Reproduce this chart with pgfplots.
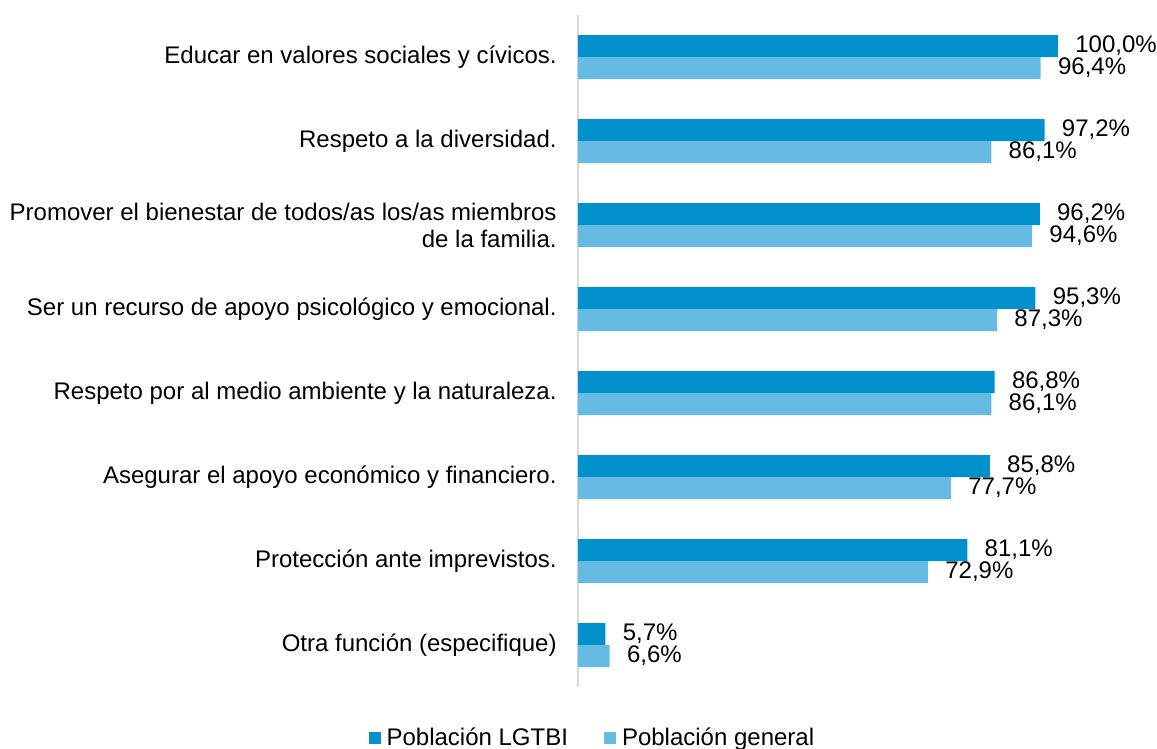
\documentclass[border=0pt]{standalone}
\usepackage{pgfplots}
\pgfplotsset{compat=1.18}
\usepackage{fontspec}
\setmainfont{Liberation Sans}
\definecolor{cdark}{HTML}{0291CD}
\definecolor{clight}{HTML}{66BBE2}
\definecolor{caxis}{HTML}{D9D9D9}
\begin{document}
\fontsize{12}{13.5}\selectfont
\begin{tikzpicture}
\begin{axis}[
  at={(0,0)}, anchor=south west,
  scale only axis,
  width=240pt, height=336pt,
  xbar, bar width=11pt,
  xmin=0, xmax=100,
  ymin=-0.5, ymax=7.5,
  y dir=reverse,
  axis x line=none,
  axis y line*=left,
  y axis line style={draw=caxis, line width=1pt, -},
  ytick={0,...,7},
  major tick length=0pt,
  yticklabels={
    Educar en valores sociales y cívicos.,
    Respeto a la diversidad.,
    {Promover el bienestar de todos/as los/as miembros\\de la familia.},
    Ser un recurso de apoyo psicológico y emocional.,
    Respeto por al medio ambiente y la naturaleza.,
    Asegurar el apoyo económico y financiero.,
    Protección ante imprevistos.,
    Otra función (especifique)},
  yticklabel style={align=right, inner sep=0pt, xshift=-10.5pt, font=\fontsize{12}{13.5}\selectfont},
  clip=false,
  /pgf/number format/assume math mode=true,
  nodes near coords={\pgfmathprintnumber[fixed,fixed zerofill,precision=1,use comma]{\pgfplotspointmeta}\%},
  nodes near coords style={anchor=west, inner sep=0pt, xshift=8.5pt, font=\fontsize{12}{13}\selectfont},
  legend style={at={(0.030,-0.076)}, anchor=center, draw=none, legend columns=-1,
    font=\fontsize{12}{13}\selectfont,
    /tikz/every even column/.append style={column sep=17pt},
    /tikz/every odd column/.append style={column sep=2pt},
    nodes={inner sep=1pt}},
  legend image code/.code={\fill[#1] (0pt,-3pt) rectangle (6pt,3pt);},
]
\addplot[fill=cdark, draw=none, bar shift=5.5pt] coordinates {
  (100.0,0) (97.2,1) (96.2,2) (95.3,3) (86.8,4) (85.8,5) (81.1,6) (5.7,7)};
\addlegendentry{Población LGTBI}
\addplot[fill=clight, draw=none, bar shift=-5.5pt] coordinates {
  (96.4,0) (86.1,1) (94.6,2) (87.3,3) (86.1,4) (77.7,5) (72.9,6) (6.6,7)};
\addlegendentry{Población general}
\end{axis}
\pgfresetboundingbox
\useasboundingbox (-289pt,-31pt) rectangle (289.5pt,343.5pt);
\end{tikzpicture}
\end{document}
